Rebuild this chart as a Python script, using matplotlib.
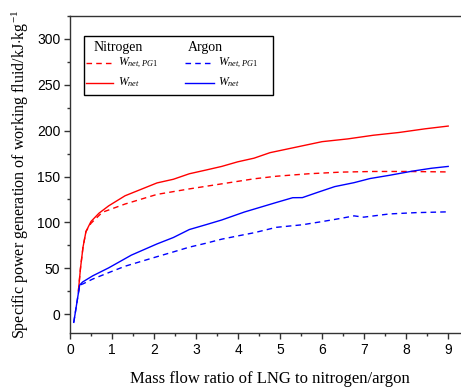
import matplotlib
matplotlib.use('Agg')
import matplotlib.pyplot as plt
import matplotlib.patches as mpatches

plt.rcParams['mathtext.fontset'] = 'custom'
plt.rcParams['mathtext.rm'] = 'Liberation Serif'
plt.rcParams['mathtext.it'] = 'Liberation Serif:italic'

SERIF = 'Liberation Serif'
SANS = 'Liberation Sans'
RED = '#FF0000'
BLUE = '#0000FF'

# data
n2_net_x = [0.2, 0.25, 0.31, 0.38, 0.5, 0.69, 0.92, 1.31, 1.69, 2.07, 2.46, 2.84, 3.23,
            3.61, 3.99, 4.38, 4.76, 5.38, 6.0, 6.61, 7.22, 7.83, 8.45, 9.0]
n2_net_y = [25, 50, 73, 90, 101, 110, 118, 129, 136, 143, 147, 153, 157,
            161, 166, 170, 176, 182, 188, 191, 195, 198, 202, 205]

n2_pg1_x = [0.2, 0.25, 0.31, 0.38, 0.5, 0.77, 1.31, 2.07, 2.84, 3.61, 4.38, 4.91,
            5.68, 6.45, 7.22, 7.99, 9.0]
n2_pg1_y = [25, 50, 73, 90, 99, 111, 120, 130.5, 136.5, 142, 147.5, 150.3,
            153, 154.8, 155.5, 155.5, 155]

ar_net_x = [0.09, 0.23, 0.3, 0.54, 0.92, 1.46, 2.07, 2.46, 2.84, 3.23, 3.61, 4.15,
            4.53, 4.91, 5.3, 5.53, 5.91, 6.3, 6.76, 7.14, 7.6, 8.14, 8.6, 9.0]
ar_net_y = [-9, 31.6, 35, 41.7, 50.4, 64.3, 76.5, 83.5, 92.2, 97.4, 102.6, 111.3,
            116.5, 121.7, 126.9, 127, 133, 139, 143.3, 147.8, 151.3, 155.8, 159, 161]

ar_pg1_x = [0.09, 0.23, 0.31, 0.54, 0.92, 1.31, 1.69, 2.07, 2.46, 2.84, 3.23, 3.61,
            3.99, 4.38, 4.91, 5.53, 5.99, 6.45, 6.76, 6.99, 7.6, 8.22, 8.83, 9.0]
ar_pg1_y = [-9, 31.6, 33, 38.2, 45.2, 52.2, 57.4, 62.6, 67.8, 73, 77.2, 81.7,
            85.2, 88.7, 94.6, 97.4, 100.8, 104.4, 107.1, 105.7, 109.2, 110.6, 111.3, 111.5]

x_ticks = list(range(0, 10))
y_ticks = [0, 50, 100, 150, 200, 250, 300]

fig = plt.figure(figsize=(4.61, 3.87), dpi=100)
ax = fig.add_axes([0.1518, 0.1395, 0.866, 0.8192])

DASH = (0, (4, 3))
ax.plot(n2_pg1_x, n2_pg1_y, color=RED, lw=1.0, linestyle=DASH)
ax.plot(n2_net_x, n2_net_y, color=RED, lw=1.0)
ax.plot(ar_pg1_x, ar_pg1_y, color=BLUE, lw=1.0, linestyle=DASH)
ax.plot(ar_net_x, ar_net_y, color=BLUE, lw=1.0)

ax.set_xlim(0, 9.2)
ax.set_ylim(-20.6, 310.4)
ax.set_xticks(x_ticks)
ax.set_yticks(y_ticks)
ax.set_xticks([v + 0.5 for v in x_ticks], minor=True)
ax.set_yticks([v + 25 for v in y_ticks], minor=True)
ax.tick_params(which='both', direction='out', color='#333333', width=1)
ax.tick_params(which='major', length=4, labelsize=10, pad=3)
ax.tick_params(which='minor', length=2.5)
for lbl in ax.get_xticklabels() + ax.get_yticklabels():
    lbl.set_fontfamily(SANS)
for sp in ax.spines.values():
    sp.set_color('#333333')
    sp.set_linewidth(1.0)

ax.set_xlabel('Mass flow ratio of LNG to nitrogen/argon', fontfamily=SERIF, fontsize=12, labelpad=10)
ax.set_ylabel('Specific power generation of working fluid/kJ$\\cdot$kg$^{-1}$',
              fontfamily=SERIF, fontsize=11.5, labelpad=4)

# legend box, drawn by hand
box = mpatches.Rectangle((0.035, 0.751), 0.474, 0.186, transform=ax.transAxes,
                         facecolor='white', edgecolor='black', lw=1.0, zorder=5)
ax.add_patch(box)
ax.text(0.058, 0.90, 'Nitrogen', transform=ax.transAxes, fontfamily=SERIF,
        fontsize=10, va='center', zorder=6)
ax.text(0.296, 0.90, 'Argon', transform=ax.transAxes, fontfamily=SERIF,
        fontsize=10, va='center', zorder=6)
ax.plot([0.04, 0.108], [0.853, 0.853], transform=ax.transAxes, color=RED, lw=1.0,
        linestyle=DASH, zorder=6)
ax.plot([0.04, 0.108], [0.79, 0.79], transform=ax.transAxes, color=RED, lw=1.0, zorder=6)
ax.plot([0.288, 0.36], [0.853, 0.853], transform=ax.transAxes, color=BLUE, lw=1.0,
        linestyle=DASH, zorder=6)
ax.plot([0.288, 0.36], [0.79, 0.79], transform=ax.transAxes, color=BLUE, lw=1.0, zorder=6)
for xx in (0.12, 0.37):
    ax.text(xx, 0.853, '$W_{net,PG1}$', transform=ax.transAxes, fontsize=8.5,
            va='center', zorder=6)
    ax.text(xx, 0.79, '$W_{net}$', transform=ax.transAxes, fontsize=8.5,
            va='center', zorder=6)

plt.savefig('out.png', dpi=100)
plt.close()
